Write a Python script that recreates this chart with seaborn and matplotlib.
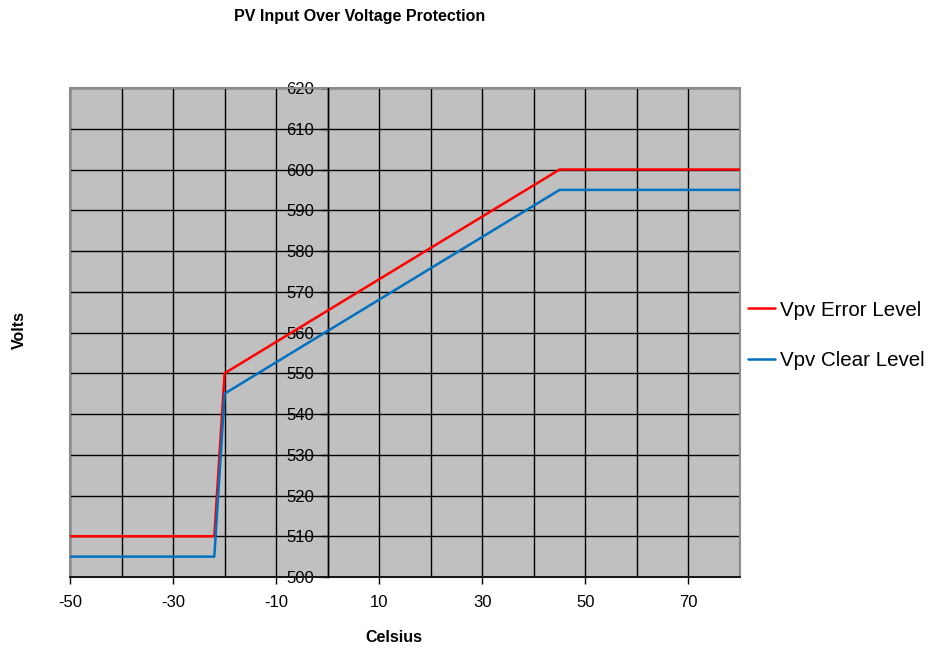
import matplotlib
matplotlib.use("Agg")
import matplotlib.pyplot as plt
import seaborn as sns
import pandas as pd
from matplotlib.patches import Rectangle

# ── Data ─────────────────────────────────────────────────────
celsius     = [-50, -22, -20, 45, 80]
error_level = [510, 510, 550, 600, 600]
clear_level = [505, 505, 545, 595, 595]
series_names = ["Vpv Error Level", "Vpv Clear Level"]
x_ticks = [-50, -30, -10, 10, 30, 50, 70]
y_ticks = list(range(500, 621, 10))

df = pd.DataFrame({
    "Celsius": celsius * 2,
    "Volts": error_level + clear_level,
    "series": [series_names[0]] * len(celsius) + [series_names[1]] * len(celsius),
})

sns.set_theme(style="white")
plt.rcParams["font.family"] = ["Liberation Sans", "DejaVu Sans"]
plt.rcParams["axes.unicode_minus"] = False
plt.rcParams["text.color"] = "black"
plt.rcParams["xtick.color"] = "black"
plt.rcParams["ytick.color"] = "black"
plt.rcParams["xtick.labelcolor"] = "black"
plt.rcParams["ytick.labelcolor"] = "black"

fig = plt.figure(figsize=(9.32, 6.48), dpi=100)
ax = fig.add_axes([70 / 932, 1 - 577 / 648, 670 / 932, 489 / 648])
ax.set_facecolor("#c0c0c0")

sns.lineplot(data=df, x="Celsius", y="Volts", hue="series",
             palette=["#ff0000", "#0070c0"], linewidth=1.8, ax=ax,
             estimator=None, sort=False)

ax.set_xlim(-50, 80)
ax.set_ylim(500, 620)
ax.set_xticks(x_ticks)
ax.set_xticks([-40, -20, 0, 20, 40, 60, 80], minor=True)
ax.set_yticks(y_ticks)

ax.grid(True, which="both", color="black", linewidth=1)
ax.set_axisbelow(True)
for line in ax.get_lines():
    line.set_zorder(3)

# y axis crosses at x = 0
for s in ("top", "right"):
    ax.spines[s].set_visible(False)
ax.spines["left"].set_position(("data", 0))
ax.spines["left"].set_color("black")
ax.spines["left"].set_linewidth(1)
ax.spines["bottom"].set_color("black")
ax.spines["bottom"].set_linewidth(1.2)
ax.add_patch(Rectangle((0, 0), 1, 1, transform=ax.transAxes, fill=False,
                       edgecolor="#8c8c8c", linewidth=1.5, zorder=1,
                       clip_on=False))

ax.tick_params(axis="x", which="major", direction="out", length=5, width=1,
               labelsize=12, pad=8, bottom=True)
ax.tick_params(axis="x", which="minor", length=0)
ax.tick_params(axis="y", direction="out", length=5, width=1,
               labelsize=12, pad=5, left=True)

ax.set_xlabel("")
ax.set_ylabel("")
fig.text(360 / 932, 1 - 17 / 648, "PV Input Over Voltage Protection",
         ha="center", va="center", fontsize=11.5, fontweight="bold")
fig.text(394 / 932, 1 - 637 / 648, "Celsius", ha="center", va="center",
         fontsize=11.5, fontweight="bold")
fig.text(19 / 932, 1 - 330 / 648, "Volts", ha="center", va="center",
         rotation=90, fontsize=11.5, fontweight="bold")

leg = ax.legend(loc="center left", bbox_to_anchor=(1.0, 0.494), frameon=False,
                fontsize=14.8, handlelength=1.3, handletextpad=0.25,
                labelspacing=1.55, borderaxespad=0.0)
for h in leg.get_lines():
    h.set_linewidth(1.8)

fig.savefig("out.png", dpi=100)
